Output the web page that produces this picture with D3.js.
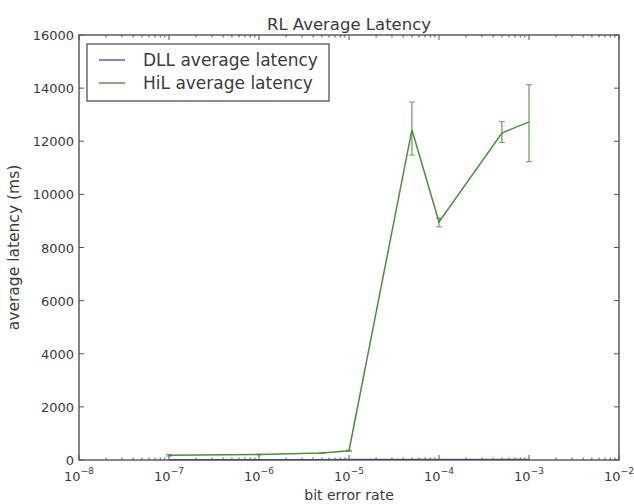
<!DOCTYPE html>
<html><head><meta charset="utf-8">
<script src="https://cdn.jsdelivr.net/npm/d3@7"></script>
<style>body{margin:0;background:#fff;}svg{display:block;font-family:"DejaVu Sans",sans-serif;}</style>
</head><body><svg id="c" width="634" height="504"></svg>
<script>
const berX = [1e-7, 1e-6, 5e-6, 1e-5, 5e-5, 1e-4, 5e-4, 1e-3];
const dllMean = [15, 15, 18, 20, 22, 20, 22, 25];
const dllErr = [5, 5, 5, 5, 8, 5, 5, 8];
const hilMean = [180, 210, 260, 350, 12430, 8960, 12310, 12730];
const hilLow = [150, 200, 250, 330, 11480, 8780, 11950, 11230];
const hilHigh = [210, 220, 270, 370, 13480, 9110, 12740, 14130];
const yTicks = [0, 2000, 4000, 6000, 8000, 10000, 12000, 14000, 16000];
const xTickExps = [-8, -7, -6, -5, -4, -3, -2];
const seriesNames = ["DLL average latency", "HiL average latency"];

const svg = d3.select("#c");
const L = 79, R = 619, T = 35, B = 460;
const x = d3.scaleLog().domain([1e-8, 1e-2]).range([L, R]);
const y = d3.scaleLinear().domain([0, 16000]).range([B, T]);
const blue = "#5358a8", green = "#4a8f3e";
const tickCol = "#555";
const txtCol = "#3a3a3a";

// title
svg.append("text").attr("x", (L + R) / 2).attr("y", 30).attr("text-anchor", "middle")
  .attr("font-size", 16.5).attr("fill", txtCol).text("RL Average Latency");

// lines
const line = d3.line().x(d => x(d[0])).y(d => y(d[1]));
const g = svg.append("g");
// DLL
g.append("path").datum(berX.map((v, i) => [v, dllMean[i]])).attr("d", line)
  .attr("fill", "none").attr("stroke", blue).attr("stroke-width", 1.2);
berX.forEach((v, i) => {
  g.append("line").attr("x1", x(v)).attr("x2", x(v)).attr("y1", y(dllMean[i] - dllErr[i])).attr("y2", y(dllMean[i] + dllErr[i]))
    .attr("stroke", blue).attr("stroke-width", 1);
});
// HiL
g.append("path").datum(berX.map((v, i) => [v, hilMean[i]])).attr("d", line)
  .attr("fill", "none").attr("stroke", green).attr("stroke-width", 1.5);
berX.forEach((v, i) => {
  const cx = x(v);
  g.append("line").attr("x1", cx).attr("x2", cx).attr("y1", y(hilLow[i])).attr("y2", y(hilHigh[i]))
    .attr("stroke", green).attr("stroke-width", 1.3).attr("opacity", 0.8);
  [hilLow[i], hilHigh[i]].forEach(e => {
    g.append("line").attr("x1", cx - 3).attr("x2", cx + 3).attr("y1", y(e)).attr("y2", y(e))
      .attr("stroke", green).attr("stroke-width", 1).attr("opacity", 0.8);
  });
});

// frame
svg.append("rect").attr("x", L).attr("y", T).attr("width", R - L).attr("height", B - T)
  .attr("fill", "none").attr("stroke", "#444").attr("stroke-width", 1.3);

// y ticks (inside, both sides)
const ya = svg.append("g");
yTicks.forEach(t => {
  const yy = y(t);
  ya.append("line").attr("x1", L).attr("x2", L + 5).attr("y1", yy).attr("y2", yy).attr("stroke", tickCol);
  ya.append("line").attr("x1", R).attr("x2", R - 5).attr("y1", yy).attr("y2", yy).attr("stroke", tickCol);
  ya.append("text").attr("x", L - 5).attr("y", yy + 5).attr("text-anchor", "end")
    .attr("font-size", 13).attr("fill", txtCol).text(t);
});

// x ticks (major + minor, inside, top and bottom)
const xa = svg.append("g");
xTickExps.forEach((e, k) => {
  const xx = x(Math.pow(10, e));
  xa.append("line").attr("x1", xx).attr("x2", xx).attr("y1", B).attr("y2", B - 5).attr("stroke", tickCol);
  xa.append("line").attr("x1", xx).attr("x2", xx).attr("y1", T).attr("y2", T + 5).attr("stroke", tickCol);
  const tx = xa.append("text").attr("x", xx).attr("y", B + 21).attr("text-anchor", "middle")
    .attr("font-size", 13).attr("fill", txtCol);
  tx.append("tspan").text("10");
  tx.append("tspan").attr("dy", -7).attr("font-size", 9).text("\u2212" + (-e));
  if (k < xTickExps.length - 1) {
    for (let m = 2; m <= 9; m++) {
      const xm = x(m * Math.pow(10, e));
      xa.append("line").attr("x1", xm).attr("x2", xm).attr("y1", B).attr("y2", B - 2.5).attr("stroke", tickCol);
      xa.append("line").attr("x1", xm).attr("x2", xm).attr("y1", T).attr("y2", T + 2.5).attr("stroke", tickCol);
    }
  }
});

// axis labels
svg.append("text").attr("x", (L + R) / 2).attr("y", 500).attr("text-anchor", "middle")
  .attr("font-size", 14).attr("fill", txtCol).text("bit error rate");
svg.append("text").attr("transform", `translate(19,${(T + B) / 2}) rotate(-90)`).attr("text-anchor", "middle")
  .attr("font-size", 15.5).attr("fill", txtCol).text("average latency (ms)");

// legend
const lg = svg.append("g");
lg.append("rect").attr("x", 87).attr("y", 44).attr("width", 242).attr("height", 57)
  .attr("fill", "#fff").attr("stroke", "#444").attr("stroke-width", 1.2);
[blue, green].forEach((c, i) => {
  const yy = 60 + i * 23;
  lg.append("line").attr("x1", 99).attr("x2", 125).attr("y1", yy).attr("y2", yy).attr("stroke", c).attr("stroke-width", 1.4);
  lg.append("text").attr("x", 143).attr("y", yy + 6).attr("font-size", 17).attr("fill", txtCol).text(seriesNames[i]);
});
</script></body></html>
